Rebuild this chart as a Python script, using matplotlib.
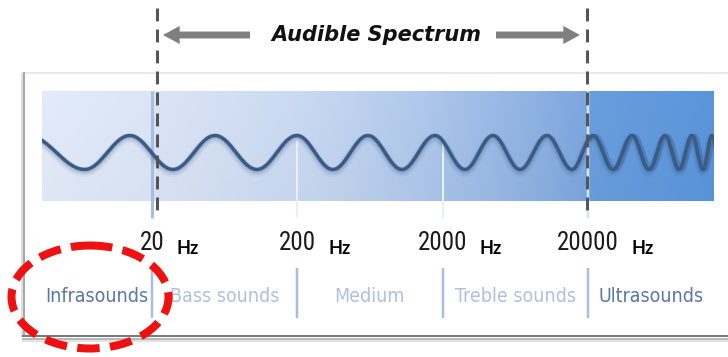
import numpy as np
import matplotlib
matplotlib.use('Agg')
import matplotlib.pyplot as plt
from matplotlib import font_manager as fm
from matplotlib.patches import Rectangle, Ellipse, FancyArrowPatch
import matplotlib.transforms as mtransforms
from matplotlib.colors import to_rgb

# ---------------- data ----------------
boundary_hz = [20, 200, 2000, 20000]
boundary_labels = ['20', '200', '2000', '20000']
unit_label = 'Hz'
range_names = ['Infrasounds', 'Bass sounds', 'Medium', 'Treble sounds', 'Ultrasounds']
range_highlight = [True, False, False, False, True]
range_edges_hz = [3.5, 20, 200, 2000, 20000, 147600]
audible_hz = [20, 20000]
title = 'Audible Spectrum'
# alternating crest / trough positions of the drawn wave (first one is a crest)
wave_extrema_hz = [2.8, 6.9, 14.1, 27.9, 54.3, 105.6, 199, 352, 613, 1051, 1773,
                   2851, 4446, 6822, 10460, 15550, 21690, 29770, 40240, 52680,
                   67870, 84730, 104100, 123960, 142900, 164900]

# ---------------- fonts ----------------
def pick(cands, **kw):
    for c in cands:
        try:
            fm.findfont(fm.FontProperties(family=c, **kw), fallback_to_default=False)
            return c
        except Exception:
            pass
    return 'DejaVu Sans'

narrow = pick(['Liberation Sans Narrow', 'Roboto Condensed', 'DejaVu Sans Condensed', 'Liberation Sans'])
hzfont = pick(['Lato', 'Liberation Sans', 'DejaVu Sans'])
_dvc = fm.findfont(fm.FontProperties(family='DejaVu Sans', stretch='condensed'))
if 'ondensed' in _dvc:
    cat_font = dict(family='DejaVu Sans', stretch='condensed', fontsize=14)
else:
    cat_font = dict(family=narrow, fontsize=15)

W, H = 728, 357
fig = plt.figure(figsize=(W / 100, H / 100), dpi=100)
fig.patch.set_facecolor('white')

bg = fig.add_axes([0, 0, 1, 1], label='bg')
bg.set_xlim(0, W); bg.set_ylim(H, 0); bg.axis('off')

ax = fig.add_axes([0, 0, 1, 1], label='freq')
ax.set_xscale('log')
ax.set_xlim(1.8, 184200); ax.set_ylim(H, 0)
ax.patch.set_alpha(0); ax.axis('off')

top = fig.add_axes([0, 0, 1, 1], label='top')
top.set_xlim(0, W); top.set_ylim(H, 0)
top.patch.set_alpha(0); top.axis('off')

PX = 72 / 100.0  # points per pixel

# ---------------- panel ----------------
bg.add_patch(Rectangle((23, 73), W - 23, 263, facecolor='white', edgecolor='none', zorder=1))
bg.plot([23, W], [73, 73], color='#e2e2e2', lw=1.5 * PX, zorder=2)
bg.plot([21.5, 21.5], [74, 336], color='#dddddd', lw=2 * PX, zorder=2)
bg.plot([23.5, 23.5], [73, 336], color='#a8a8a8', lw=2 * PX, zorder=2)
bg.plot([23, W], [336, 336], color='#7a7a7a', lw=2 * PX, zorder=2)
bg.plot([23, W], [338.5, 338.5], color='#b8b8b8', lw=2 * PX, zorder=2)
bg.plot([23, W], [341, 341], color='#e2e2e2', lw=2 * PX, zorder=2)

# gradient band
stops = [(42, '#e0e8f6'), (150, '#d8e2f3'), (300, '#c7d6ee'), (420, '#adc5e8'),
         (520, '#90b2e0'), (588, '#7aa3dc'), (590, '#689cdb'), (714, '#5993d8')]
xs = np.arange(42, 714)
cols = np.zeros((len(xs), 3))
sx = [s[0] for s in stops]
for k in range(3):
    cols[:, k] = np.interp(xs, sx, [to_rgb(s[1])[k] for s in stops])
img = np.repeat(cols[None, :, :], 20, axis=0)
vshade = np.linspace(1.015, 0.995, 20)[:, None, None]
img = np.clip(img * vshade, 0, 1)
bg.imshow(img, extent=(42, 714, 201, 91), aspect='auto', interpolation='bilinear', zorder=3)
band = Rectangle((42, 91), 672, 110, transform=bg.transData)

# ---------------- separators ----------------
ax.vlines(boundary_hz[0], 91, 218, color='#a6bee6', lw=3 * PX, zorder=2)
ax.vlines(boundary_hz[1:3], 140, 218, color='#e8eff9', lw=2 * PX, zorder=2)
ax.vlines(boundary_hz[3], 91, 218, color='#d5e2f4', lw=2.5 * PX, zorder=2)
ax.vlines(boundary_hz, 268, 318, color='#aabddf', lw=2.5 * PX, zorder=2)

# ---------------- wave ----------------
u = np.log10(wave_extrema_hz)
crest, trough = 135.5, 169.5
wx, wy = [], []
for i in range(len(u) - 1):
    y0 = crest if i % 2 == 0 else trough
    y1 = trough if i % 2 == 0 else crest
    t = np.linspace(0, 1, 40)
    wx.append(10 ** (u[i] + (u[i + 1] - u[i]) * t))
    wy.append(y0 + (y1 - y0) * (1 - np.cos(np.pi * t)) / 2)
wx = np.concatenate(wx); wy = np.concatenate(wy)
for lw, a, dy in [(10, 0.06, 2.5), (7, 0.10, 2), (5, 0.15, 1)]:
    ln, = ax.plot(wx, wy + dy, color='#2f4f78', lw=lw * PX, alpha=a, zorder=3,
                  solid_capstyle='round')
    ln.set_clip_path(band)
ultra = wx > boundary_hz[3]
ln, = ax.plot(wx[ultra] * 1.05, wy[ultra], color='#3a5d88', lw=3.5 * PX, alpha=0.35, zorder=3)
ln.set_clip_path(band)
ln, = ax.plot(wx, wy, color='#3a5b86', lw=3.5 * PX, zorder=4)
ln.set_clip_path(band)

# ---------------- audible limits ----------------
off_l = mtransforms.ScaledTranslation(5 / 100, 0, fig.dpi_scale_trans)
off_r = mtransforms.ScaledTranslation(-1 / 100, 0, fig.dpi_scale_trans)
for f, off in zip(audible_hz, [off_l, off_r]):
    ax.plot([f, f], [8, 218], color='#555555', lw=3 * PX, zorder=6,
            linestyle=(0, (4.3, 2.7)), transform=ax.transData + off)

# ---------------- frequency labels ----------------
for f, lab in zip(boundary_hz, boundary_labels):
    t = ax.text(f, 243, lab, ha='center', va='center', fontsize=18,
                family=narrow, color='#1a1a1a', zorder=5)
    ax.annotate(unit_label, xy=(1, 0.5), xycoords=t, xytext=(9, -4),
                textcoords='offset points', ha='left', va='center',
                fontsize=13, fontweight='bold', family=hzfont, color='black')

for i, name in enumerate(range_names):
    fc = np.sqrt(range_edges_hz[i] * range_edges_hz[i + 1])
    ax.text(fc, 296, name, ha='center', va='center',
            color='#5878a5' if range_highlight[i] else '#b0c0de', zorder=5, **cat_font)

# ---------------- title & arrows ----------------
top.text(376, 35, title, ha='center', va='center', fontsize=15,
         fontweight='bold', fontstyle='italic', color='#111111')
for a, b in [((250, 35), (163, 35)), ((496, 35), (580, 35))]:
    top.add_patch(FancyArrowPatch(a, b, arrowstyle='simple,head_length=1.2,head_width=1.3,tail_width=0.5',
                                  mutation_scale=10, color='#7f7f7f', lw=0,
                                  shrinkA=0, shrinkB=0))

# ---------------- highlight ellipse ----------------
top.add_patch(Ellipse((90, 297), 157, 103, fill=False, edgecolor='#ee1111',
                      lw=8 * PX, linestyle=(0, (2.8, 1.3)), capstyle='butt', zorder=10))

fig.savefig('out.png', dpi=100, facecolor='white')
